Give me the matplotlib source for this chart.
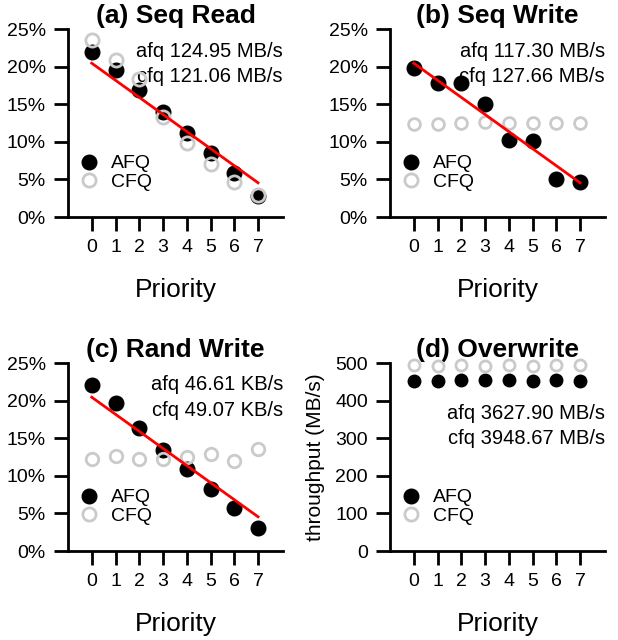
import matplotlib
matplotlib.use("Agg")
from matplotlib import pyplot as plt

plt.rcParams['font.family'] = ['Liberation Sans', 'DejaVu Sans']

# donnees
priorites = [0, 1, 2, 3, 4, 5, 6, 7]
ideal = [20.45, 18.18, 15.91, 13.64, 11.36, 9.09, 6.82, 4.55]

seq_read_afq = [22.0, 19.5, 16.9, 14.0, 11.2, 8.5, 5.8, 2.8]
seq_read_cfq = [23.5, 20.9, 18.3, 13.3, 9.8, 7.0, 4.7, 2.9]

seq_write_afq = [19.8, 17.8, 17.8, 15.0, 10.3, 10.1, 5.05, 4.6]
seq_write_cfq = [12.4, 12.4, 12.5, 12.6, 12.5, 12.5, 12.5, 12.5]

rand_write_afq = [22.1, 19.7, 16.4, 13.4, 10.9, 8.2, 5.7, 3.1]
rand_write_cfq = [12.2, 12.6, 12.2, 12.2, 12.5, 12.9, 12.0, 13.5]

overwrite_afq = [452, 451, 456, 454, 455, 453, 454, 452]
overwrite_cfq = [494, 493, 494, 493, 494, 493, 494, 493.5]

titres = ["(a) Seq Read", "(b) Seq Write", "(c) Rand Write", "(d) Overwrite"]
debits = [("afq 124.95 MB/s", "cfq 121.06 MB/s"),
          ("afq 117.30 MB/s", "cfq 127.66 MB/s"),
          ("afq 46.61 KB/s", "cfq 49.07 KB/s"),
          ("afq 3627.90 MB/s", "cfq 3948.67 MB/s")]
pourcent_ticks = [0, 5, 10, 15, 20, 25]
pourcent_labels = ["0%", "5%", "10%", "15%", "20%", "25%"]
debit_ticks = [0, 100, 200, 300, 400, 500]

GRIS = '#cacaca'


def prepareAxe(ax, titre, lignes, y_texte):
    """Mise en forme commune des quatre panneaux."""
    ax.set_xlim(-1.0, 8.05)
    ax.set_xticks(priorites)
    for cote in ['top', 'right']:
        ax.spines[cote].set_visible(False)
    for cote in ['left', 'bottom']:
        ax.spines[cote].set_linewidth(2)
    ax.tick_params(axis='both', length=10, width=2, labelsize=14, pad=6)
    ax.set_title(titre, fontsize=19, fontweight='bold', pad=4)
    ax.set_xlabel("Priority", fontsize=19, labelpad=16)
    ax.text(1.0, y_texte[0], lignes[0], transform=ax.transAxes,
            ha='right', va='center', fontsize=14.5)
    ax.text(1.0, y_texte[1], lignes[1], transform=ax.transAxes,
            ha='right', va='center', fontsize=14.5)
    leg = ax.legend(loc='center left', bbox_to_anchor=(0.06, 0.235),
                    frameon=False, fontsize=14, handlelength=0.8,
                    handletextpad=0.75, labelspacing=0.05, borderaxespad=0,
                    borderpad=0)
    # marqueurs de legende de meme taille partout
    leg.legend_handles[0].set_markersize(10.5)
    leg.legend_handles[1].set_markersize(9.5)
    return None


def traceParts(ax, afq, cfq, ms_cfq):
    ax.plot(priorites, afq, 'o', color='black', ms=10.5, label='AFQ',
            clip_on=False, zorder=3)
    ax.plot(priorites, cfq, 'o', mfc='none', mec=GRIS, mew=2, ms=ms_cfq,
            label='CFQ', clip_on=False, zorder=4)
    ax.plot(priorites, ideal, '-', color='red', lw=2, zorder=5)
    ax.set_ylim(0, 25)
    ax.set_yticks(pourcent_ticks)
    ax.set_yticklabels(pourcent_labels)
    return None


fig = plt.figure(figsize=(6.18, 6.40), dpi=100)
W, H = 618, 640
cadres = [(68, 29), (390, 29), (68, 363), (390, 363)]
axes = [fig.add_axes([x / W, 1 - (y + 188) / H, 215 / W, 188 / H])
        for (x, y) in cadres]

traceParts(axes[0], seq_read_afq, seq_read_cfq, 9.5)
traceParts(axes[1], seq_write_afq, seq_write_cfq, 8.5)
traceParts(axes[2], rand_write_afq, rand_write_cfq, 9)

ax = axes[3]
ax.plot(priorites, overwrite_afq, 'o', color='black', ms=9, label='AFQ',
        clip_on=False, zorder=3)
ax.plot(priorites, overwrite_cfq, 'o', mfc='none', mec=GRIS, mew=2, ms=8,
        label='CFQ', clip_on=False, zorder=4)
ax.set_ylim(0, 500)
ax.set_yticks(debit_ticks)
ax.set_ylabel("throughput (MB/s)", fontsize=15, labelpad=7)

positions_texte = [(0.878, 0.745), (0.878, 0.745), (0.883, 0.75), (0.734, 0.60)]
for i in range(4):
    prepareAxe(axes[i], titres[i], debits[i], positions_texte[i])

fig.savefig("out.png", dpi=100)
